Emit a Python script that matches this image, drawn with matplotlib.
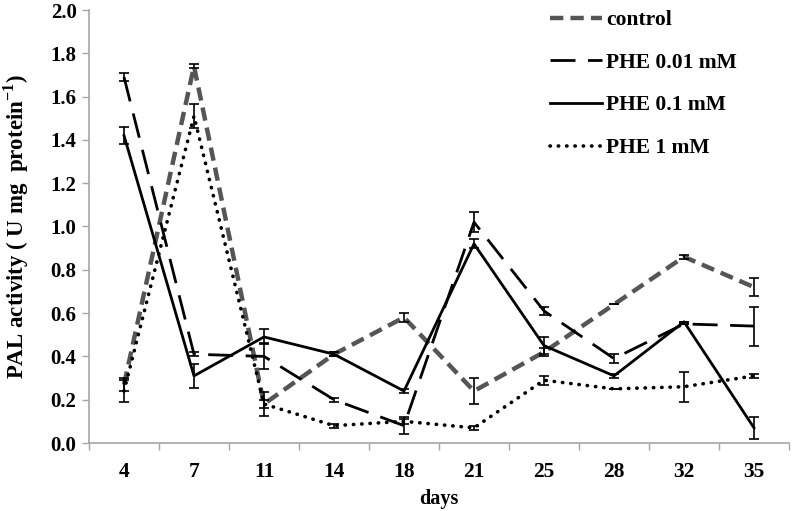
import numpy as np
import matplotlib
matplotlib.use("Agg")
import matplotlib.pyplot as plt
from matplotlib.ticker import FixedLocator

days = ["4", "7", "11", "14", "18", "21", "25", "28", "32", "35"]

control = [0.27, 1.74, 0.18, 0.41, 0.58, 0.24, 0.42, 0.64, 0.86, 0.72]
control_err = [0.03, 0.01, 0.02, 0.01, 0.02, 0.06, 0.02, 0.0, 0.01, 0.04]

phe_001 = [1.69, 0.41, 0.40, 0.20, 0.08, 1.02, 0.61, 0.39, 0.55, 0.54]
phe_001_err = [0.02, 0.01, 0.06, 0.01, 0.04, 0.045, 0.02, 0.02, 0.0, 0.09]

phe_01 = [1.42, 0.31, 0.49, 0.41, 0.24, 0.92, 0.45, 0.31, 0.56, 0.07]
phe_01_err = [0.04, 0.055, 0.035, 0.01, 0.01, 0.02, 0.04, 0.01, 0.0, 0.05]

phe_1 = [0.24, 1.51, 0.18, 0.08, 0.10, 0.07, 0.29, 0.25, 0.26, 0.31]
phe_1_err = [0.05, 0.055, 0.055, 0.01, 0.01, 0.01, 0.02, 0.0, 0.07, 0.01]

plt.rcParams['font.family'] = ['Liberation Serif', 'DejaVu Serif']
plt.rcParams['font.weight'] = 'bold'
plt.rcParams['mathtext.fontset'] = 'custom'
plt.rcParams['mathtext.rm'] = 'Liberation Serif:bold'
plt.rcParams['mathtext.bf'] = 'Liberation Serif:bold'

fig = plt.figure(figsize=(7.93, 5.11), dpi=100)
ax = fig.add_axes([89/793, 1-443/511, 700/793, 433/511])

x = np.arange(len(days))

# series: (values, errors, label, style)
series = [
    (control, control_err, "control", dict(color="#555555", lw=3.2, dashes=(3.0, 1.6))),
    (phe_001, phe_001_err, "PHE 0.01 mM", dict(color="black", lw=2.0, dashes=(9, 4.5))),
    (phe_01, phe_01_err, "PHE 0.1 mM", dict(color="black", lw=2.0, linestyle="-")),
    (phe_1, phe_1_err, "PHE 1 mM", dict(color="black", lw=2.6, dashes=(0.1, 2.2), dash_capstyle="round")),
]

for vals, err, lab, st in series:
    ax.plot(x, vals, label=lab, **st)
    ax.errorbar(x, vals, yerr=err, fmt="none", ecolor="black", elinewidth=1.2,
                capsize=3.5, capthick=1.2)

ax.set_xlim(-0.5, len(days) - 0.5)
ax.set_ylim(0, 2.0)
ax.set_yticks(np.arange(0, 2.01, 0.2))
ax.set_yticklabels([f"{v:.1f}" for v in np.arange(0, 2.01, 0.2)], fontsize=15, fontweight="bold")
ax.set_xticks(x)
ax.set_xticklabels(days, fontsize=15.5, fontweight="bold")
ax.xaxis.set_minor_locator(FixedLocator(np.arange(-0.5, len(days), 1.0)))
ax.tick_params(axis="x", which="major", length=0, pad=14)
ax.tick_params(axis="x", which="minor", length=5, color="#a6a6a6", width=1)
ax.tick_params(axis="y", length=5, color="#a6a6a6", width=1, pad=4)

for s in ["top", "right"]:
    ax.spines[s].set_visible(False)
for s in ["left", "bottom"]:
    ax.spines[s].set_color("#a6a6a6")
    ax.spines[s].set_linewidth(1.2)

ax.set_xlabel("days", fontsize=14.5, fontweight="bold", labelpad=5)
ax.set_ylabel("PAL activity ( U mg  protein$^{-1}$)", fontsize=16.5, fontweight="bold", labelpad=14)

leg = ax.legend(loc="upper left", bbox_to_anchor=(550/793, 1-10/511), bbox_transform=fig.transFigure,
                frameon=False, fontsize=15.5, handlelength=2.4, handletextpad=0.2,
                labelspacing=1.05, borderpad=0, borderaxespad=0)
for t in leg.get_texts():
    t.set_fontweight("bold")

fig.savefig("out.png", dpi=100)
